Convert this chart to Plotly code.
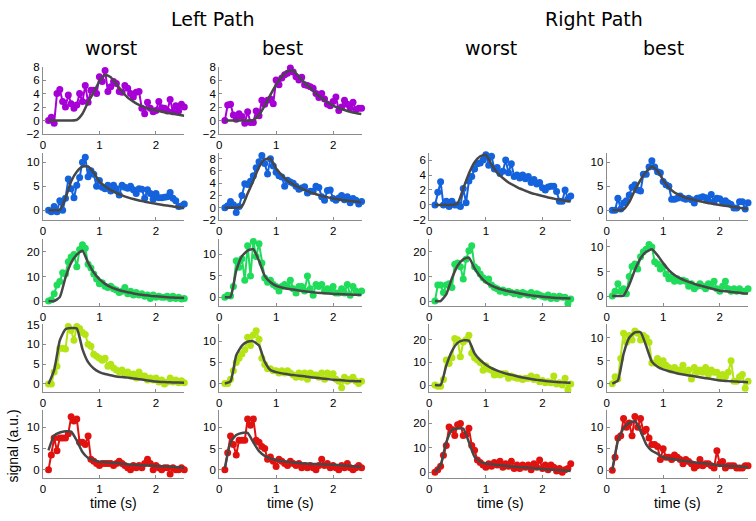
import plotly.graph_objects as go

# ---------------- data ----------------
time_s = [0.10, 0.15, 0.20, 0.25, 0.30, 0.35, 0.40, 0.45, 0.50, 0.55,
          0.60, 0.65, 0.70, 0.75, 0.80, 0.85, 0.90, 0.95, 1.00, 1.05,
          1.10, 1.15, 1.20, 1.25, 1.30, 1.35, 1.40, 1.45, 1.50, 1.55,
          1.60, 1.65, 1.70, 1.75, 1.80, 1.85, 1.90, 1.95, 2.00, 2.05,
          2.10, 2.15, 2.20, 2.25, 2.30, 2.35, 2.40, 2.45, 2.50]

fit_time = [0.1, 0.2, 0.3, 0.4, 0.5, 0.6, 0.7, 0.8, 0.9, 1.0,
            1.1, 1.2, 1.3, 1.4, 1.5, 1.6, 1.7, 1.8, 1.9, 2.0,
            2.1, 2.2, 2.3, 2.4, 2.5]

x_ticks = [0, 1, 2]

# Row 1 (purple) - left path only
L_worst_1 = [0, 0.5, -0.4, 4.0, 4.6, 2.8, 2.0, 3.8, 2.5, 1.8,
             2.3, 4.0, 2.8, 5.2, 2.7, 4.5, 4.5, 4.0, 6.5, 5.8,
             7.4, 4.3, 5.0, 5.8, 5.5, 4.3, 4.2, 5.2, 4.8, 4.0,
             3.5, 4.2, 4.3, 1.8, 1.0, 2.7, 1.8, 1.3, 1.5, 2.8,
             1.9, 1.8, 1.4, 3.1, 1.3, 2.2, 1.4, 2.4, 2.0]
L_worst_1_fit = [0, 0, 0, 0, 0, 0.1, 1.0, 2.7, 4.2, 5.8,
                 6.8, 6.4, 5.4, 4.3, 3.4, 2.8, 2.3, 1.95, 1.7, 1.5,
                 1.3, 1.15, 1.0, 0.85, 0.7]
L_best_1 = [0, 2.3, 2.4, 0.8, 0.2, 1.0, 0.6, -0.4, 1.3, -0.3,
            -0.3, 1.4, 0.7, 3.0, 2.4, 3.0, 3.2, 2.5, 6.0, 5.3,
            6.3, 6.8, 7.0, 7.8, 7.2, 6.5, 6.0, 6.4, 5.3, 5.2,
            5.0, 4.8, 4.0, 3.4, 4.0, 3.2, 2.4, 2.2, 2.8, 3.5,
            1.5, 2.0, 3.0, 2.4, 1.9, 2.7, 1.6, 1.8, 1.8]
L_best_1_fit = [0, 0, 0, 0, 0, 0.1, 0.8, 2.2, 3.8, 5.3,
                6.5, 7.3, 7.4, 6.5, 5.6, 4.8, 4.0, 3.3, 2.7, 2.2,
                1.85, 1.55, 1.3, 1.1, 0.95]

# Row 2 (blue)
L_worst_2 = [0, -0.3, 0.8, -0.3, 2.0, 0.0, 2.5, 6.5, 4.5, 2.6,
             5.2, 6.8, 10.0, 11.0, 7.0, 8.2, 7.5, 5.0, 6.2, 4.8,
             4.5, 5.2, 4.0, 5.2, 4.5, 3.2, 5.2, 4.8, 4.6, 5.0,
             4.3, 3.5, 4.5, 4.4, 2.5, 4.3, 3.5, 2.3, 3.5, 2.6,
             2.6, 2.7, 2.8, 3.7, 2.5, 2.0, 0.8, 0.9, 1.3]
L_worst_2_fit = [0, 0, 0.1, 2.5, 6.0, 8.0, 9.1, 9.1, 7.8, 6.0,
                 5.0, 4.2, 3.6, 3.1, 2.7, 2.35, 2.05, 1.8, 1.55, 1.35,
                 1.15, 1.0, 0.8, 0.65, 0.5]
L_best_2 = [0, 0.3, 1.0, 0.5, -0.8, 0.2, 2.0, 3.9, 3.8, 4.3,
            5.2, 6.5, 7.5, 8.5, 7.2, 5.5, 8.0, 6.8, 5.8, 5.2,
            5.0, 3.5, 4.5, 4.2, 4.0, 3.5, 3.0, 3.2, 3.4, 2.4,
            2.7, 2.7, 3.5, 3.3, 1.8, 1.2, 2.8, 2.9, 1.5, 1.2,
            1.6, 2.0, 1.3, 1.8, 0.8, 1.5, 1.2, 0.6, 1.0]
L_best_2_fit = [0, 0, 0, 0.2, 2.3, 4.4, 6.6, 7.9, 8.0, 6.4,
                5.3, 4.4, 3.8, 3.3, 2.9, 2.5, 2.2, 1.9, 1.7, 1.5,
                1.35, 1.2, 1.1, 1.0, 0.9]
R_worst_2 = [0, 1.7, 3.1, 0.0, 0.5, -0.2, 0.5, 0.0, 0.0, -0.2,
             2.2, 0.3, 3.2, 3.8, 4.8, 5.5, 5.6, 6.0, 6.7, 5.3,
             6.5, 4.8, 5.0, 4.2, 4.5, 6.0, 4.3, 5.5, 3.8, 4.0,
             3.6, 4.0, 3.5, 3.8, 3.0, 3.4, 2.8, 3.0, 2.3, 2.0,
             2.4, 2.5, 2.5, 1.8, 0.5, 0.5, 2.0, 0.8, 1.2]
R_worst_2_fit = [0, 0, 0, 0, 0.2, 2.2, 4.2, 5.7, 6.5, 6.7,
                 5.4, 4.3, 3.6, 3.0, 2.6, 2.2, 1.9, 1.6, 1.4, 1.2,
                 1.0, 0.85, 0.7, 0.55, 0.45]
R_best_2 = [0, 0, 2.5, 0.3, 1.5, 2.0, 3.2, 4.8, 5.3, 4.2,
            4.0, 7.5, 7.5, 9.0, 10.3, 9.0, 8.0, 7.8, 6.0, 5.3,
            5.0, 2.3, 2.3, 2.5, 3.0, 2.5, 2.3, 2.5, 2.2, 1.5,
            2.5, 2.6, 2.8, 2.6, 2.0, 3.3, 1.8, 2.5, 2.4, 1.8,
            2.0, 1.5, 1.2, 0.5, 0.5, 1.8, 1.8, 0.3, 1.6]
R_best_2_fit = [0, 0, 0.2, 1.7, 4.2, 6.3, 8.0, 9.1, 8.2, 6.3,
                4.7, 3.7, 3.1, 2.6, 2.3, 2.0, 1.75, 1.5, 1.3, 1.1,
                0.95, 0.8, 0.6, 0.45, 0.3]

# Row 3 (green)
L_worst_3 = [0, 0.5, 3.0, 6.5, 8.0, 11.5, 11.0, 16.0, 18.0, 19.0,
             14.0, 21.0, 23.0, 21.5, 15.0, 13.5, 11.0, 9.0, 7.0, 7.5,
             6.0, 5.5, 6.0, 5.0, 4.5, 3.5, 4.0, 5.5, 3.0, 4.0,
             2.5, 3.5, 2.5, 3.0, 2.0, 2.5, 1.0, 2.5, 1.5, 2.0,
             1.5, 1.5, 2.0, 1.0, 2.0, 1.0, 1.5, 0.8, 1.0]
L_worst_3_fit = [0, 0, 1.6, 9.6, 15.6, 18.9, 20.5, 15.6, 11.6, 8.9,
                 7.0, 5.7, 4.8, 4.1, 3.6, 3.1, 2.7, 2.4, 2.1, 1.9,
                 1.7, 1.55, 1.4, 1.3, 1.2]
L_best_3 = [0, 0.5, 0.3, 2.5, 8.5, 7.0, 9.0, 4.0, 12.0, 5.0,
            13.0, 9.5, 12.5, 8.0, 4.5, 3.5, 4.0, 3.0, 2.5, 1.5,
            2.5, 3.0, 2.5, 4.0, 2.0, 1.0, 2.5, 2.5, 1.5, 5.0,
            2.0, 0.5, 3.0, 2.5, 3.0, 1.5, 2.0, 1.5, 2.5, 1.0,
            1.0, 2.0, 1.0, 3.0, 0.5, 2.5, 1.5, 1.0, 1.5]
L_best_3_fit = [0, 0.15, 6.2, 9.6, 10.9, 11.2, 8.5, 5.0, 3.5, 2.7,
                2.3, 2.0, 1.8, 1.6, 1.4, 1.25, 1.1, 1.0, 0.9, 0.8,
                0.75, 0.7, 0.65, 0.6, 0.55]
R_worst_3 = [0, 6.5, 6.5, 3.5, 6.5, 7.0, 5.5, 15.0, 15.5, 14.0,
             9.0, 17.0, 20.5, 22.5, 14.0, 13.0, 11.0, 9.5, 8.5, 9.0,
             6.5, 5.5, 5.0, 4.0, 4.5, 3.5, 4.0, 3.5, 3.0, 3.5,
             2.5, 3.5, 3.0, 2.5, 3.5, 2.0, 3.0, 2.5, 2.0, 1.5,
             2.5, 1.0, 2.0, 1.0, 2.0, 1.5, 1.5, -1.0, 0.8]
R_worst_3_fit = [0, 0, 2.7, 9.3, 14.4, 17.0, 17.7, 13.3, 10.0, 7.7,
                 6.3, 5.3, 4.6, 4.0, 3.6, 3.1, 2.7, 2.3, 2.0, 1.7,
                 1.5, 1.35, 1.2, 1.1, 1.0]
R_best_3 = [0, 1.0, 2.5, 1.0, 1.5, 0.5, 4.0, 6.0, 6.5, 5.5,
            8.0, 9.0, 9.5, 10.5, 10.0, 7.0, 6.5, 5.5, 6.0, 4.5,
            3.5, 4.0, 3.0, 3.5, 3.0, 3.2, 3.0, 2.0, 2.5, 1.5,
            2.0, 2.5, 2.0, 1.5, 2.5, 2.0, 3.0, 1.5, 1.0, 2.0,
            3.0, 1.5, 1.0, 1.5, 1.0, 1.5, 1.0, 1.0, 1.5]
R_best_3_fit = [0, 0, 0.1, 2.3, 5.3, 7.7, 9.0, 9.5, 8.3, 6.7,
                5.3, 4.3, 3.6, 3.1, 2.7, 2.3, 2.0, 1.7, 1.4, 1.1,
                1.0, 0.85, 0.75, 0.6, 0.5]

# Row 4 (yellow-green)
L_worst_4 = [0, 0, 3.0, 4.5, 9.0, 9.0, 8.8, 14.5, 13.5, 11.0,
             14.5, 14.0, 13.0, 12.5, 10.0, 9.5, 7.5, 7.0, 6.5, 6.0,
             6.5, 4.5, 5.0, 4.0, 3.5, 3.0, 3.5, 2.5, 3.0, 2.0,
             2.5, 1.5, 3.0, 2.0, 2.0, 1.0, 1.5, 1.0, 1.5, 0.5,
             1.0, 0.0, 0.5, 1.5, 0.5, 1.0, 0.3, 0.8, 0.3]
L_worst_4_fit = [0, 3.5, 11.0, 13.8, 14.1, 14.0, 8.8, 5.5, 3.9, 3.0,
                 2.5, 2.2, 1.9, 1.75, 1.6, 1.4, 1.2, 1.0, 0.8, 0.6,
                 0.5, 0.45, 0.4, 0.35, 0.3]
L_best_4 = [0, 0, 1.0, 3.0, 5.0, 6.0, 7.0, 8.0, 11.0, 9.0,
            11.5, 12.5, 10.5, 6.0, 4.5, 3.5, 3.5, 3.0, 3.0, 2.5,
            3.0, 2.5, 3.0, 2.5, 2.0, 1.5, 2.5, 1.5, 2.5, 1.0,
            2.5, 2.0, 2.0, 1.5, 2.5, 1.0, 2.5, 2.0, 2.3, 1.0,
            0.5, -1.0, 1.5, 0.5, 1.0, 1.5, 0.5, 0.0, 0.5]
L_best_4_fit = [0, 0.5, 6.7, 9.0, 9.9, 10.0, 9.0, 5.2, 3.2, 2.7,
                2.4, 2.2, 2.0, 1.85, 1.7, 1.5, 1.35, 1.2, 1.05, 0.9,
                0.8, 0.7, 0.6, 0.55, 0.5]
R_worst_4 = [0, -0.5, -0.5, 2.5, 11.0, 9.5, 12.0, 20.5, 20.0, 12.5,
             19.0, 20.0, 22.0, 14.0, 12.0, 11.0, 10.0, 6.5, 8.5, 7.0,
             6.5, 4.5, 5.0, 4.5, 5.0, 5.0, 3.0, 4.0, 3.5, 3.0,
             3.0, 2.5, 3.0, 3.0, 4.0, 2.5, 3.5, 1.5, 2.0, 1.0,
             1.5, 1.0, 4.0, 0.5, 1.0, 0.0, 3.0, -2.0, 0.5]
R_worst_4_fit = [0, 0, 8.6, 15.0, 18.6, 19.7, 19.5, 14.0, 11.0, 9.0,
                 7.5, 6.4, 5.5, 4.8, 4.2, 3.6, 3.1, 2.7, 2.3, 2.0,
                 1.7, 1.5, 1.3, 1.1, 1.0]
R_best_4 = [0, 1.5, 1.0, 5.5, 11.0, 9.0, 10.5, 9.5, 11.5, 11.0,
            9.5, 10.5, 10.0, 9.0, 4.5, 4.5, 5.5, 4.0, 5.0, 4.0,
            3.5, 3.0, 3.5, 3.0, 3.0, 4.0, 2.5, 3.0, 1.0, 3.5,
            2.5, 3.0, 2.5, 3.5, 2.0, 3.0, 2.5, 2.5, 1.5, 2.0,
            1.5, 2.5, 5.0, 0.5, 0.5, 1.5, 2.0, -1.0, 0.5]
R_best_4_fit = [0, 0.7, 6.5, 10.0, 11.2, 11.2, 8.2, 4.8, 3.7, 3.1,
                2.7, 2.4, 2.1, 1.9, 1.7, 1.5, 1.3, 1.1, 0.9, 0.7,
                0.6, 0.5, 0.45, 0.4, 0.3]

# Row 5 (red)
L_worst_5 = [0, 3.5, 7.5, 4.5, 7.5, 7.5, 7.5, 8.5, 12.5, 11.5,
             12.0, 6.5, 6.5, 6.0, 8.0, 2.5, 2.0, 1.5, 1.0, 1.5,
             1.5, 1.5, 1.5, 1.0, 1.5, 2.0, 1.5, 1.0, 0.5, 0.0,
             1.0, 0.5, 1.0, 0.5, 1.5, 2.5, 1.5, 0.0, 1.0, 0.5,
             0.0, 0.5, 0.5, -1.0, 0.5, 0.0, 0.0, 0.5, 0.0]
L_worst_5_fit = [4.6, 8.1, 8.8, 9.1, 9.0, 6.9, 4.2, 2.8, 2.3, 1.9,
                 1.8, 1.7, 1.6, 1.45, 1.3, 1.2, 1.1, 1.05, 1.0, 0.9,
                 0.85, 0.8, 0.7, 0.6, 0.5]
L_best_5 = [0, 4.0, 8.0, 6.0, 3.5, 7.0, 7.0, 7.0, 12.0, 10.5,
            12.0, 7.0, 6.5, 5.5, 5.0, 2.5, 3.0, 2.0, 0.8, 2.5,
            2.0, 1.5, 1.0, 2.0, 1.5, 1.0, 1.5, 0.5, 1.0, 0.5,
            1.0, 0.5, 0.0, 1.0, 2.5, 1.0, 1.5, 0.5, 1.0, 0.5,
            0.0, 1.0, 0.5, 1.5, 0.5, 0.0, 0.5, 1.0, 0.5]
L_best_5_fit = [0.4, 6.5, 8.2, 8.7, 8.7, 6.5, 4.4, 3.3, 2.7, 2.3,
                2.1, 1.9, 1.75, 1.6, 1.5, 1.4, 1.35, 1.3, 1.25, 1.2,
                1.1, 1.0, 0.9, 0.8, 0.7]
R_worst_5 = [0, 1.0, 2.5, 7.0, 11.0, 18.5, 17.5, 15.0, 19.5, 20.0,
             15.0, 15.5, 18.0, 11.0, 9.0, 5.0, 4.0, 3.0, 2.0, 3.5,
             2.5, 4.0, 3.0, 4.5, 2.0, 3.5, 2.5, 4.5, 1.5, 3.0,
             1.5, 3.0, 2.0, 3.0, 1.0, 3.5, 2.0, 5.0, 1.5, 3.0,
             1.0, 3.0, 2.0, 0.5, 1.5, 0.0, 1.0, 1.5, 3.5]
R_worst_5_fit = [0, 2.9, 12.3, 17.3, 17.9, 17.9, 12.3, 6.3, 4.3, 3.6,
                 3.3, 3.0, 2.8, 2.5, 2.3, 2.1, 1.9, 1.7, 1.5, 1.3,
                 1.15, 1.0, 0.85, 0.7, 0.55]
R_best_5 = [0, 3.0, 7.5, 8.0, 12.0, 10.0, 11.0, 8.0, 12.5, 10.0,
            12.0, 9.0, 9.5, 7.5, 6.0, 6.0, 5.5, 2.5, 5.0, 3.0,
            3.0, 2.5, 3.5, 3.0, 2.5, 1.5, 2.5, 2.0, 1.5, 0.5,
            1.0, 2.5, 1.0, 1.5, 1.5, 1.0, 0.5, 4.5, 1.5, 2.0,
            0.5, 1.0, 1.0, 1.0, 0.5, 0.5, 0.5, 1.0, 1.0]
R_best_5_fit = [0, 6.8, 9.8, 11.0, 11.4, 9.1, 6.0, 4.5, 3.8, 3.0,
                2.7, 2.5, 2.3, 2.1, 1.9, 1.75, 1.6, 1.45, 1.3, 1.1,
                1.0, 0.95, 0.9, 0.8, 0.75]

row_colors = ["#a700d6", "#1462dc", "#1fdc5a", "#b4e414", "#e0120f"]
fit_color = "#474747"

# (column, row, data, fit, y-range, y-ticks)
panels = [
    (0, 0, L_worst_1, L_worst_1_fit, [-2, 8], [-2, 0, 2, 4, 6, 8]),
    (1, 0, L_best_1, L_best_1_fit, [-2, 8], [-2, 0, 2, 4, 6, 8]),
    (0, 1, L_worst_2, L_worst_2_fit, [-2, 12], [0, 5, 10]),
    (1, 1, L_best_2, L_best_2_fit, [-2, 9], [-2, 0, 2, 4, 6, 8]),
    (2, 1, R_worst_2, R_worst_2_fit, [-2, 7], [-2, 0, 2, 4, 6]),
    (3, 1, R_best_2, R_best_2_fit, [-2, 12], [0, 5, 10]),
    (0, 2, L_worst_3, L_worst_3_fit, [-2, 25.5], [0, 10, 20]),
    (1, 2, L_best_3, L_best_3_fit, [-2, 13.7], [0, 5, 10]),
    (2, 2, R_worst_3, R_worst_3_fit, [-2, 25.5], [0, 10, 20]),
    (3, 2, R_best_3, R_best_3_fit, [-2, 11.7], [0, 5, 10]),
    (0, 3, L_worst_4, L_worst_4_fit, [-2, 15], [0, 5, 10, 15]),
    (1, 3, L_best_4, L_best_4_fit, [-2, 14], [0, 5, 10]),
    (2, 3, R_worst_4, R_worst_4_fit, [-3, 26.7], [0, 10, 20]),
    (3, 3, R_best_4, R_best_4_fit, [-1.8, 12.9], [0, 5, 10]),
    (0, 4, L_worst_5, L_worst_5_fit, [-1.9, 14], [0, 5, 10]),
    (1, 4, L_best_5, L_best_5_fit, [-1.9, 14], [0, 5, 10]),
    (2, 4, R_worst_5, R_worst_5_fit, [-2.3, 25.3], [0, 10, 20]),
    (3, 4, R_best_5, R_best_5_fit, [-1.8, 13.9], [0, 5, 10]),
]

# ---------------- layout geometry (pixels) ----------------
W, H = 756, 521
col_px = [(40, 182), (217, 360), (428, 570), (606, 748)]
row_px = [(62, 131), (150, 219), (238, 307), (326, 395), (414, 483)]

fig = go.Figure()
layout = dict(
    width=W, height=H,
    margin=dict(l=0, r=0, t=0, b=0),
    paper_bgcolor="white", plot_bgcolor="white",
    showlegend=False,
    font=dict(family="Liberation Sans, Arial, sans-serif", size=12, color="black"),
)

axis_common = dict(
    showline=True, linecolor="#8c8c8c", linewidth=1,
    showgrid=False, zeroline=False,
    ticks="inside", ticklen=3, tickcolor="#8c8c8c", tickwidth=1,
    tickfont=dict(family="Liberation Sans, Arial, sans-serif", size=11.5, color="black"),
)

for i, (c, r, ydata, yfit, yr, yt) in enumerate(panels, start=1):
    xa = "x" if i == 1 else f"x{i}"
    ya = "y" if i == 1 else f"y{i}"
    color = row_colors[r]
    fig.add_trace(go.Scatter(
        x=time_s, y=ydata, xaxis=xa, yaxis=ya, mode="lines+markers",
        line=dict(color=color, width=2),
        marker=dict(color=color, size=7),
        cliponaxis=False, hoverinfo="skip"))
    fig.add_trace(go.Scatter(
        x=fit_time, y=yfit, xaxis=xa, yaxis=ya, mode="lines",
        line=dict(color=fit_color, width=2.5, shape="spline", smoothing=0.5),
        cliponaxis=False, hoverinfo="skip"))
    x0, x1 = col_px[c]
    t0, b0 = row_px[r]
    layout["xaxis" if i == 1 else f"xaxis{i}"] = dict(
        axis_common, domain=[x0 / W, x1 / W], range=[0, 2.5],
        tickvals=x_ticks, anchor=ya)
    layout["yaxis" if i == 1 else f"yaxis{i}"] = dict(
        axis_common, domain=[1 - b0 / H, 1 - t0 / H], range=yr,
        tickvals=yt, anchor=xa)

title_font = dict(family="DejaVu Sans, sans-serif", size=19, color="black")
label_font = dict(family="Liberation Sans, Arial, sans-serif", size=14, color="black")

annotations = [
    dict(text="Left Path", x=211 / W, y=1 - 13 / H, font=title_font),
    dict(text="Right Path", x=593 / W, y=1 - 13 / H, font=title_font),
    dict(text="worst", x=108 / W, y=1 - 43 / H, font=title_font),
    dict(text="best", x=281 / W, y=1 - 43 / H, font=title_font),
    dict(text="worst", x=490 / W, y=1 - 43 / H, font=title_font),
    dict(text="best", x=663 / W, y=1 - 43 / H, font=title_font),
    dict(text="signal (a.u.)", x=10 / W, y=1 - 450 / H, textangle=-90, font=label_font),
]
for (x0, x1) in col_px:
    annotations.append(dict(text="time (s)", x=(x0 + x1) / 2 / W, y=1 - 509 / H, font=label_font))
for a in annotations:
    a.update(xref="paper", yref="paper", showarrow=False, xanchor="center", yanchor="middle")
layout["annotations"] = annotations

fig.update_layout(**layout)

page_fix = (
    "var h=document.documentElement.style, b=document.body.style;"
    "h.margin='0';h.padding='0';h.overflow='hidden';"
    "b.margin='0';b.padding='0';b.overflow='hidden';"
)
fig.write_html("out.html", config={"displayModeBar": False, "staticPlot": True},
               post_script=page_fix)
